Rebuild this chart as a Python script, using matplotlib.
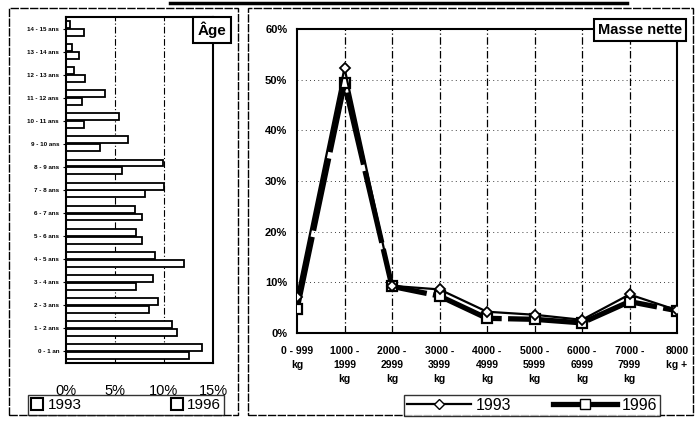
import matplotlib.pyplot as plt
from matplotlib.patches import Rectangle, Patch
from matplotlib.lines import Line2D

plt.rcParams['font.family'] = ['Liberation Sans', 'DejaVu Sans']

# Age chart (horizontal bars), from bottom to top
ages = ["0 - 1 an", "1 - 2 ans", "2 - 3 ans", "3 - 4 ans", "4 - 5 ans", "5 - 6 ans",
        "6 - 7 ans", "7 - 8 ans", "8 - 9 ans", "9 - 10 ans", "10 - 11 ans",
        "11 - 12 ans", "12 - 13 ans", "13 - 14 ans", "14 - 15 ans"]
age_1993 = [12.6, 11.3, 8.5, 7.1, 12.0, 7.8, 7.8, 8.1, 5.7, 3.5, 1.8, 1.6, 1.9, 1.3, 1.8]
age_1996 = [13.9, 10.8, 9.4, 8.9, 9.1, 7.1, 7.0, 10.0, 9.9, 6.3, 5.4, 4.0, 0.8, 0.6, 0.4]
age_ticks = [0, 5, 10, 15]

# Net mass chart
masses = ["0 - 999\nkg", "1000 -\n1999\nkg", "2000 -\n2999\nkg", "3000 -\n3999\nkg",
          "4000 -\n4999\nkg", "5000 -\n5999\nkg", "6000 -\n6999\nkg", "7000 -\n7999\nkg",
          "8000\nkg +"]
mass_1993 = [7.2, 52.3, 9.3, 8.6, 4.2, 3.6, 2.6, 7.6, 4.5]
mass_1996 = [4.7, 49.3, 9.2, 7.3, 2.9, 2.7, 2.0, 6.2, 4.4]
mass_ticks = [0, 10, 20, 30, 40, 50, 60]

W, H = 695, 422
fig = plt.figure(figsize=(W / 100, H / 100), dpi=100)


def box(x0, y0, x1, y1):
    # pixel box (top-left origin) -> figure fraction rect
    return [x0 / W, 1 - y1 / H, (x1 - x0) / W, (y1 - y0) / H]


# panel frames
for x0, y0, x1, y1 in [(9, 8, 238, 415), (248, 8, 693, 415)]:
    fig.add_artist(Rectangle((x0 / W, 1 - y1 / H), (x1 - x0) / W, (y1 - y0) / H,
                             transform=fig.transFigure, fill=False, ec='black',
                             lw=1.0, ls=(0, (6, 1))))
fig.add_artist(Line2D([170 / W, 627 / W], [1 - 3 / H, 1 - 3 / H], transform=fig.transFigure,
                      color='black', lw=2.5))

# ---- left: age bars ----
ax1 = fig.add_axes(box(66, 17, 213, 363))
y = list(range(len(ages)))
h = 0.3
ax1.barh([v - 0.17 for v in y], age_1993, height=h, color='white', edgecolor='black',
         linewidth=1.3, label='1993')
ax1.barh([v + 0.17 for v in y], age_1996, height=h, color='white', edgecolor='black',
         linewidth=1.3, label='1996')
ax1.set_xlim(0, 15)
ax1.set_ylim(-0.5, len(ages) - 0.5)
ax1.set_yticks(y)
ax1.set_yticklabels(ages, fontsize=4.5, fontweight='bold')
ax1.set_xticks(age_ticks)
ax1.set_xticklabels([f"{t}%" for t in age_ticks], fontsize=10.5)
ax1.tick_params(axis='x', length=0, pad=15)
ax1.tick_params(axis='y', length=2, pad=3)
for t in [5, 10]:
    ax1.axvline(t, color='black', lw=0.8, ls=(0, (6, 2, 1, 2)), zorder=0)
for s in ax1.spines.values():
    s.set_linewidth(1.5)

fig.legend(handles=[Patch(fc='white', ec='black', lw=1.5, label='1993'),
                    Patch(fc='white', ec='black', lw=1.5, label='1996')],
           loc='center', bbox_to_anchor=box(20, 392, 232, 418), mode='expand', ncol=2,
           fontsize=11, frameon=True, fancybox=False, edgecolor='black',
           handlelength=0.8, handleheight=0.8, handletextpad=0.3, borderpad=0.2)

fig.text(212 / W, 1 - 30 / H, "Âge", fontsize=11, fontweight='bold', ha='center',
         va='center', bbox=dict(boxstyle='square,pad=0.3', fc='white', ec='black', lw=1.5))

# ---- right: net mass lines ----
ax2 = fig.add_axes(box(297, 29, 677, 333))
x = list(range(len(masses)))
ax2.plot(x, mass_1996, color='black', lw=3.8, ls=(0, (14, 1.2)), marker='s', ms=7,
         mfc='white', mec='black', mew=1.6, label='1996', zorder=3)
ax2.plot(x, mass_1993, color='black', lw=1.6, marker='D', ms=5, mfc='white',
         mec='black', mew=1.3, label='1993', zorder=4)
ax2.set_xlim(0, len(masses) - 1)
ax2.set_ylim(0, 60)
ax2.set_yticks(mass_ticks)
ax2.set_yticklabels([f"{t}%" for t in mass_ticks], fontsize=8, fontweight='bold')
ax2.set_xticks(x)
ax2.set_xticklabels(masses, fontsize=7.5, fontweight='bold', linespacing=1.5)
ax2.tick_params(axis='x', length=0, pad=9)
ax2.tick_params(axis='y', length=0, pad=7)
for xv in x[1:-1]:
    ax2.axvline(xv, color='black', lw=0.9, ls=(0, (6, 2, 1, 2)), zorder=1)
for yv in mass_ticks[1:-1]:
    ax2.axhline(yv, color='black', lw=0.6, ls=(0, (1, 4)), zorder=1)
for s in ax2.spines.values():
    s.set_linewidth(1.5)

h93 = Line2D([], [], color='black', lw=1.6, marker='D', ms=5, mfc='white', mec='black')
h96 = Line2D([], [], color='black', lw=3.8, marker='s', ms=7, mfc='white', mec='black')
fig.legend(handles=[h93, h96], labels=['1993', '1996'], loc='center',
           bbox_to_anchor=box(396, 391, 668, 420), mode='expand', ncol=2, fontsize=11.5,
           frameon=True, fancybox=False, edgecolor='black', handlelength=4,
           handletextpad=0.3, borderpad=0.2)

fig.text(640 / W, 1 - 30 / H, "Masse nette", fontsize=10.5, fontweight='bold',
         ha='center', va='center',
         bbox=dict(boxstyle='square,pad=0.3', fc='white', ec='black', lw=1.5))

fig.savefig('out.png', dpi=100)
